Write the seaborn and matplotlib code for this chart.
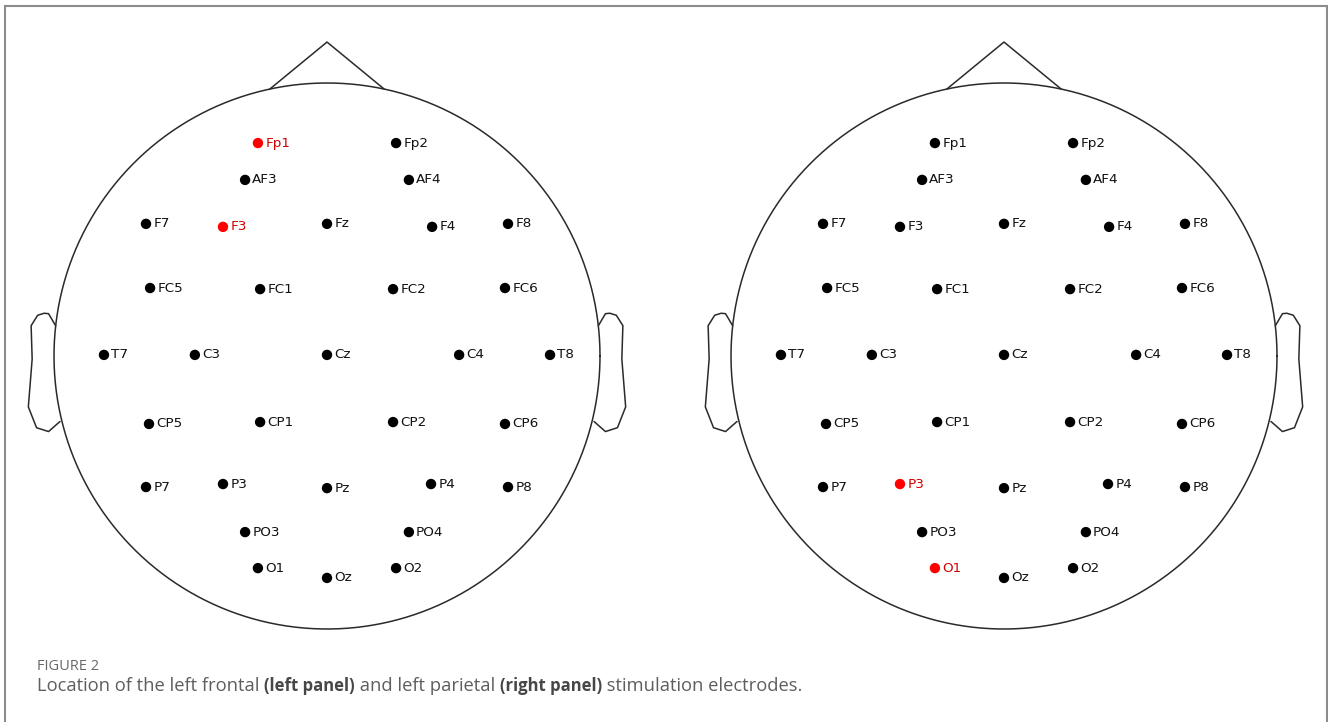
import numpy as np
import pandas as pd
import matplotlib
matplotlib.use("Agg")
import matplotlib.pyplot as plt
import seaborn as sns
from matplotlib.patches import Rectangle

# 10-20 montage, positions in units of the head radius (nose up)
channels = ["Fp1", "Fp2", "AF3", "AF4", "F7", "F3", "Fz", "F4", "F8",
            "FC5", "FC1", "FC2", "FC6", "T7", "C3", "Cz", "C4", "T8",
            "CP5", "CP1", "CP2", "CP6", "P7", "P3", "Pz", "P4", "P8",
            "PO3", "PO4", "O1", "Oz", "O2"]
pos_x = [-0.253, 0.253, -0.300, 0.300, -0.663, -0.381, 0.000, 0.385, 0.663,
         -0.648, -0.245, 0.242, 0.652, -0.817, -0.484, 0.000, 0.484, 0.817,
         -0.652, -0.245, 0.242, 0.652, -0.663, -0.381, 0.000, 0.381, 0.663,
         -0.300, 0.300, -0.253, 0.000, 0.253]
pos_y = [0.780, 0.780, 0.645, 0.645, 0.484, 0.473, 0.484, 0.473, 0.484,
         0.249, 0.245, 0.245, 0.249, 0.004, 0.004, 0.004, 0.004, 0.004,
         -0.249, -0.242, -0.242, -0.249, -0.480, -0.469, -0.484, -0.469, -0.480,
         -0.645, -0.645, -0.777, -0.813, -0.777]

stim_frontal = ["Fp1", "F3"]
stim_parietal = ["P3", "O1"]

caption_label = "FIGURE 2"
caption_parts = [("Location of the left frontal ", "normal"),
                 ("(left panel)", "bold"),
                 (" and left parietal ", "normal"),
                 ("(right panel)", "bold"),
                 (" stimulation electrodes.", "normal")]

sns.set_theme(style="white")
plt.rcParams["font.family"] = ["DejaVu Sans"]

W, H = 1328, 722
fig = plt.figure(figsize=(W / 100, H / 100), dpi=100)

R_PX = 273.0          # head radius in pixels
CY = 356.0            # head centre (pixels from top)
LIM = 1.17
LINE = "#2a2a2a"


def head_outline(ax):
    t = np.linspace(0, 2 * np.pi, 400)
    ax.plot(np.cos(t), np.sin(t), color=LINE, lw=1.1, clip_on=False)
    # nose
    d = np.exp(np.arccos(np.deg2rad(12)) * 1j)
    ax.plot([-d.real, 0, d.real], [d.imag, 1.15, d.imag],
            color=LINE, lw=1.1, clip_on=False)
    # ears
    ear_x = np.array([.497, .510, .518, .5299, .5419, .54, .547, .532, .510, .489]) * 2
    ear_y = np.array([.0555, .0775, .0783, .0746, .0555, -.0055, -.0932,
                      -.1313, -.1384, -.1199]) * 2
    ax.plot(ear_x, ear_y, color=LINE, lw=1.1, clip_on=False)
    ax.plot(-ear_x, ear_y, color=LINE, lw=1.1, clip_on=False)


base = pd.DataFrame({"name": channels, "x": pos_x, "y": pos_y})
palette = {"stim": "#ff0000", "other": "#000000"}
label_colors = {"stim": "#d00000", "other": "#111111"}

for cx, stim in [(327.0, stim_frontal), (1004.0, stim_parietal)]:
    left = (cx - LIM * R_PX) / W
    bottom = (H - (CY + LIM * R_PX)) / H
    ax = fig.add_axes([left, bottom, 2 * LIM * R_PX / W, 2 * LIM * R_PX / H])
    df = base.copy()
    df["group"] = np.where(df["name"].isin(stim), "stim", "other")
    sns.scatterplot(data=df, x="x", y="y", hue="group", palette=palette,
                    s=56, linewidth=0, legend=False, ax=ax, zorder=3)
    for _, row in df.iterrows():
        ax.annotate(row["name"], (row["x"], row["y"]), xytext=(5.2, 0),
                    textcoords="offset points", ha="left", va="center",
                    fontsize=9.7, color=label_colors[row["group"]])
    head_outline(ax)
    ax.set_xlim(-LIM, LIM)
    ax.set_ylim(-LIM, LIM)
    ax.set_aspect("equal")
    ax.axis("off")

# frame around the figure
fig.patches.append(Rectangle((4.5 / W, -0.05), (1326.5 - 4.5) / W, 1.05 - 5.5 / H,
                             transform=fig.transFigure, fill=False,
                             edgecolor="#8c8c8c", lw=1.5, clip_on=False))

# caption
cap_font = ["Open Sans", "DejaVu Sans"]
CAP_X = 37.0
fig.text(CAP_X / W, 1 - 670.5 / H, caption_label, fontsize=10.5, color="#686868",
         family=cap_font, va="baseline", ha="left")

renderer = fig.canvas.get_renderer()
SIZES = {"normal": 13.2, "bold": 12.0}
COLORS = {"normal": "#5e5e5e", "bold": "#474747"}


def text_width(s, weight):
    kw = dict(fontsize=SIZES[weight], family=cap_font, weight=weight)
    a = fig.text(0, 0, "|" + s + "|", **kw)
    b = fig.text(0, 0, "||", **kw)
    w = a.get_window_extent(renderer).width - b.get_window_extent(renderer).width
    a.remove()
    b.remove()
    return w


xpos = CAP_X
for s, weight in caption_parts:
    fig.text(xpos / W, 1 - 691.0 / H, s, fontsize=SIZES[weight], family=cap_font,
             weight=weight, color=COLORS[weight], va="baseline", ha="left")
    xpos += text_width(s, weight)

fig.savefig("out.png", dpi=100)
